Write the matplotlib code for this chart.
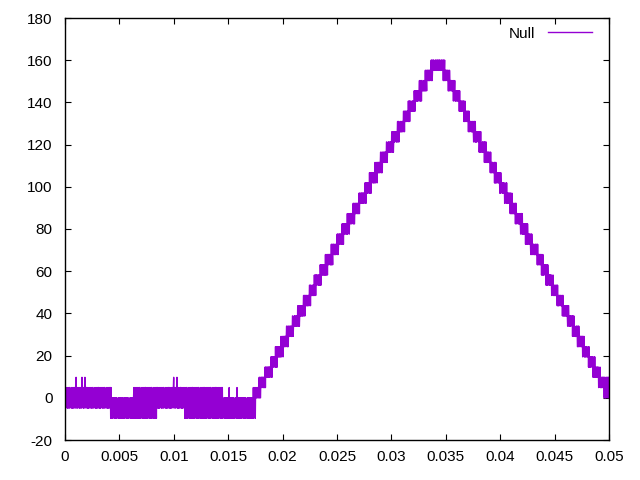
import numpy as np
import matplotlib
matplotlib.use("Agg")
import matplotlib.pyplot as plt

# Quantisation step of the signal (value of one level)
level_step = 4.85

# Blocks of the signal: start x, lowest and highest level toggled inside the block
block_start = [0.0000, 0.0042, 0.0064, 0.0084, 0.0111, 0.0144,
               # rising staircase
               0.01740, 0.01791, 0.01842, 0.01893, 0.01944, 0.01995, 0.02045, 0.02096,
               0.02147, 0.02198, 0.02249, 0.02300, 0.02351, 0.02402, 0.02453, 0.02504,
               0.02554, 0.02605, 0.02656, 0.02707, 0.02758, 0.02809, 0.02860, 0.02911,
               0.02962, 0.03013, 0.03063, 0.03114, 0.03165, 0.03216, 0.03267, 0.03318,
               0.03370,
               # falling staircase
               0.03480, 0.03528, 0.03575, 0.03623, 0.03670, 0.03718, 0.03766, 0.03813,
               0.03861, 0.03908, 0.03956, 0.04004, 0.04051, 0.04099, 0.04146, 0.04194,
               0.04242, 0.04289, 0.04337, 0.04384, 0.04432, 0.04480, 0.04527, 0.04575,
               0.04622, 0.04670, 0.04718, 0.04765, 0.04813, 0.04860, 0.04908, 0.04956]
block_low = [-1, -2, -2, -1, -2, -2,
             0, 1, 2, 3, 4, 5, 6, 7, 8, 9, 10, 11, 12, 13, 14, 15,
             16, 17, 18, 19, 20, 21, 22, 23, 24, 25, 26, 27, 28, 29, 30, 31,
             32,
             31, 30, 29, 28, 27, 26, 25, 24, 23, 22, 21, 20, 19, 18, 17, 16,
             15, 14, 13, 12, 11, 10, 9, 8, 7, 6, 5, 4, 3, 2, 1, 0]
block_high = [1, 0, 1, 1, 1, 0,
              1, 2, 3, 4, 5, 6, 7, 8, 9, 10, 11, 12, 13, 14, 15, 16,
              17, 18, 19, 20, 21, 22, 23, 24, 25, 26, 27, 28, 29, 30, 31, 32,
              33,
              32, 31, 30, 29, 28, 27, 26, 25, 24, 23, 22, 21, 20, 19, 18, 17,
              16, 15, 14, 13, 12, 11, 10, 9, 8, 7, 6, 5, 4, 3, 2, 2]

# Repeating toggle sequence inside a block (0 = lowest level, 1 = highest level, 0.5 = middle)
toggle_seq = [0, 1, 0, 1, 0.5, 0.5, 1, 0, 1, 0, 0.5, 1, 0, 1, 1, 0, 0.5, 0.5,
              0.5, 1, 0, 1, 0, 0, 1, 0, 1, 0.5, 0, 1, 1, 1, 0, 1, 0, 0.5]

# Isolated single-sample spikes (x, level)
spike_x = [0.00101, 0.00156, 0.00184, 0.0064, 0.0100, 0.0103, 0.0151, 0.0158]
spike_level = [2, 2, 2, 1, 2, 2, 1, 1]

x_end = 0.05
dt = 0.00003
overlap = 0.0001   # half-width of the zone where two neighbouring blocks mix

# Build the sampled signal from the blocks
x = np.arange(0.0, x_end + dt / 2, dt)
starts = np.array(block_start)
lo_arr = np.array(block_low)
hi_arr = np.array(block_high)
idx = np.searchsorted(starts, x, side="right") - 1
lo = lo_arr[idx].astype(float)
hi = hi_arr[idx].astype(float)
# neighbouring blocks overlap around each boundary
for k in range(1, len(starts)):
    m = np.abs(x - starts[k]) < overlap
    lo[m] = min(lo_arr[k - 1], lo_arr[k])
    hi[m] = max(hi_arr[k - 1], hi_arr[k])
seq = np.array(toggle_seq)[np.arange(len(x)) % len(toggle_seq)]
levels = np.round(lo + seq * (hi - lo))
for sx, sl in zip(spike_x, spike_level):
    levels[np.argmin(np.abs(x - sx))] = sl
y = levels * level_step

plt.rcParams['font.family'] = ['Liberation Sans', 'DejaVu Sans']
fig = plt.figure(figsize=(6.4, 4.8), dpi=100)
ax = fig.add_axes([65 / 640, 40 / 480, 544 / 640, 422 / 480])
ax.plot(x, y, color='#9400D3', lw=1.0, label='Null')

ax.set_xlim(0, 0.05)
ax.set_ylim(-20, 180)
xt = [0, 0.005, 0.01, 0.015, 0.02, 0.025, 0.03, 0.035, 0.04, 0.045, 0.05]
yt = [-20, 0, 20, 40, 60, 80, 100, 120, 140, 160, 180]
ax.set_xticks(xt)
ax.set_xticklabels(['%g' % v for v in xt])
ax.set_yticks(yt)
ax.set_yticklabels(['%g' % v for v in yt])
ax.tick_params(direction='in', length=4.5, width=0.8, top=True, right=True,
               labelsize=11, colors='black')
ax.tick_params(axis='y', pad=9)
ax.tick_params(axis='x', pad=7)
for s in ax.spines.values():
    s.set_linewidth(1.0)

leg = ax.legend(loc='upper right', bbox_to_anchor=(0.994, 1.012), frameon=False,
                markerfirst=False, fontsize=11, handlelength=2.9, handletextpad=0.8)

fig.savefig('out.png', dpi=100)
